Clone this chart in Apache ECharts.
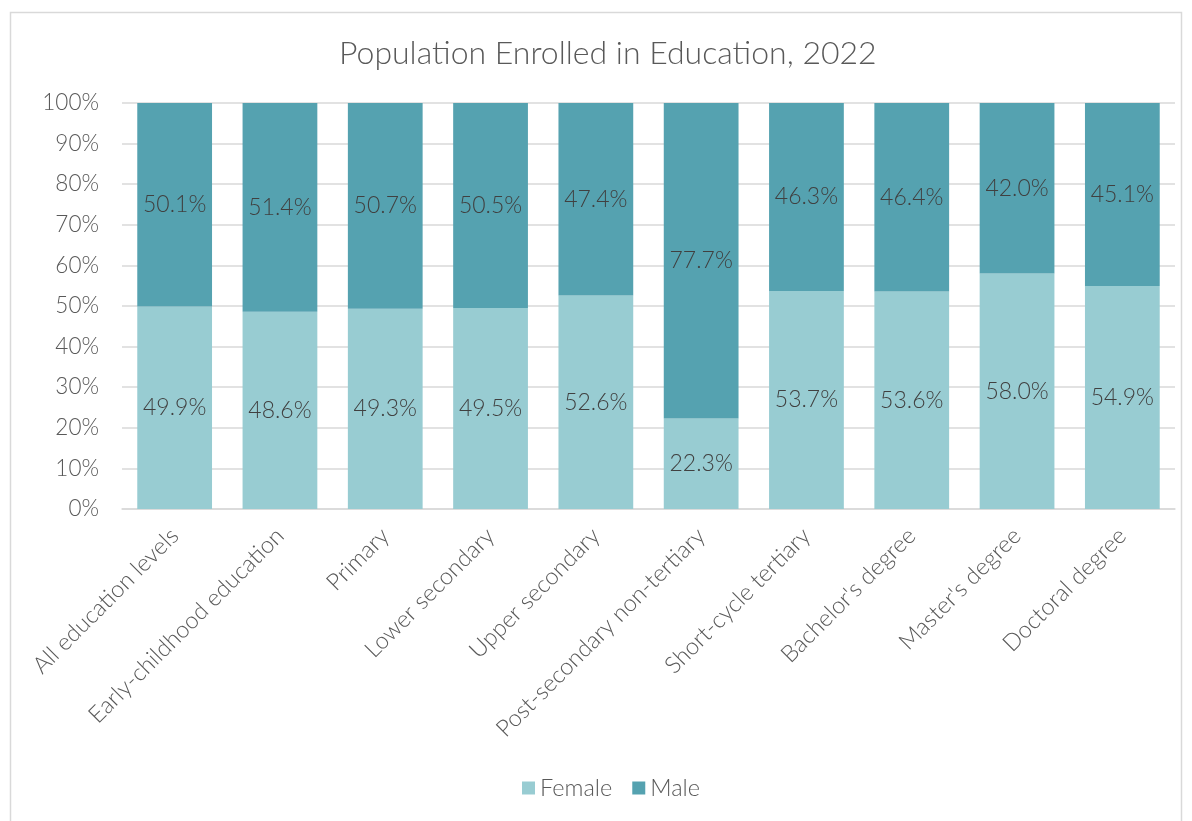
<!DOCTYPE html>
<html>
<head>
<meta charset="utf-8">
<script src="https://cdn.jsdelivr.net/npm/echarts@6/dist/echarts.min.js"></script>
<style>
  html, body { margin: 0; padding: 0; background: #fff; }
  #chart { width: 1192px; height: 821px; }
</style>
</head>
<body>
<div id="chart"></div>
<script>
// Education levels shown along the x axis
const categories = [
  'All education levels',
  'Early-childhood education',
  'Primary',
  'Lower secondary',
  'Upper secondary',
  'Post-secondary non-tertiary',
  'Short-cycle tertiary',
  "Bachelor's degree",
  "Master's degree",
  'Doctoral degree'
];

// Share of enrolled population by sex, in percent
const femaleShare = [49.9, 48.6, 49.3, 49.5, 52.6, 22.3, 53.7, 53.6, 58.0, 54.9];
const maleShare   = [50.1, 51.4, 50.7, 50.5, 47.4, 77.7, 46.3, 46.4, 42.0, 45.1];

const seriesNames = ['Female', 'Male'];

const FONT = 'Lato, "Open Sans", sans-serif';
const chart = echarts.init(document.getElementById('chart'));

const labelStyle = {
  show: true,
  position: 'inside',
  formatter: p => p.value.toFixed(1) + '%',
  color: '#404040',
  fontFamily: FONT,
  fontWeight: 300,
  fontSize: 23
};

chart.setOption({
  animation: false,
  title: {
    text: 'Population Enrolled in Education, 2022',
    left: 334,
    top: 33,
    textStyle: { color: '#595959', fontFamily: FONT, fontWeight: 300, fontSize: 32 }
  },
  graphic: [{
    type: 'rect',
    shape: { x: 10.5, y: 12.5, width: 1171, height: 840 },
    style: { fill: 'none', stroke: '#d9d9d9', lineWidth: 1.5 },
    silent: true
  }],
  legend: {
    data: seriesNames,
    bottom: 16,
    left: 517,
    itemWidth: 13,
    itemHeight: 13,
    itemGap: 20,
    icon: 'rect',
    textStyle: { color: '#595959', fontFamily: FONT, fontWeight: 300, fontSize: 23.5, padding: [0, 0, 0, 0] }
  },
  grid: { left: 122, right: 17, top: 103, bottom: 312, containLabel: false },
  xAxis: {
    type: 'category',
    data: categories,
    axisLine: { lineStyle: { color: '#d9d9d9', width: 1.5 } },
    axisTick: { show: false },
    axisLabel: {
      rotate: 45,
      interval: 0,
      margin: 23,
      color: '#595959',
      fontFamily: FONT,
      fontWeight: 300,
      fontSize: 23.5
    }
  },
  yAxis: {
    type: 'value',
    min: 0,
    max: 100,
    interval: 10,
    axisLine: { show: false },
    axisTick: { show: false },
    splitLine: { lineStyle: { color: '#d9d9d9', width: 1.5 } },
    axisLabel: {
      formatter: v => v + '%',
      margin: 23,
      color: '#595959',
      fontFamily: FONT,
      fontWeight: 300,
      fontSize: 22.5
    }
  },
  series: [
    {
      name: seriesNames[0],
      type: 'bar',
      stack: 'total',
      data: femaleShare,
      barCategoryGap: '29%',
      itemStyle: { color: '#98CCD2' },
      label: labelStyle
    },
    {
      name: seriesNames[1],
      type: 'bar',
      stack: 'total',
      data: maleShare,
      barCategoryGap: '29%',
      itemStyle: { color: '#55A2B0' },
      label: labelStyle
    }
  ]
});
</script>
</body>
</html>
